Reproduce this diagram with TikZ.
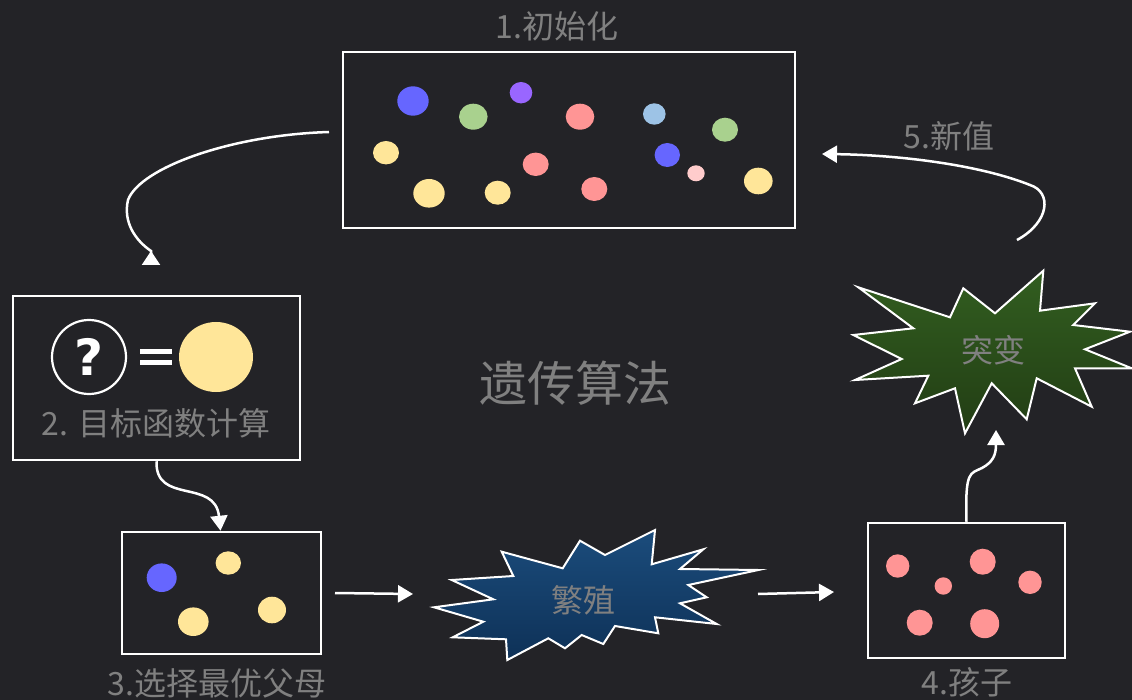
\documentclass[tikz,border=0pt]{standalone}
\usepackage{fontspec}
\setmainfont{Noto Sans CJK SC}
\newfontfamily\qfont{DejaVu Sans}
\usetikzlibrary{arrows.meta,calc}
\definecolor{bg}{HTML}{232327}
\definecolor{txt}{HTML}{808080}
\definecolor{cblue}{HTML}{6666FF}
\definecolor{cgreen}{HTML}{A9D18E}
\definecolor{cpurple}{HTML}{9966FF}
\definecolor{cred}{HTML}{FF9595}
\definecolor{clblue}{HTML}{9DC3E6}
\definecolor{cyellow}{HTML}{FFE699}
\definecolor{clpink}{HTML}{FFCCCC}
\definecolor{btop}{HTML}{1B4C7C}
\definecolor{bbot}{HTML}{0E3157}
\definecolor{gtop}{HTML}{325E20}
\definecolor{gbot}{HTML}{223D14}
\tikzset{
  box/.style={draw=white, line width=2.5pt, inner sep=0pt},
  lbl/.style={text=txt, font=\fontsize{32}{36}\selectfont, inner sep=0pt},
  conn/.style={draw=white, line width=2.5pt},
  tip/.style={-{Triangle[width=17pt,length=15pt]}},
  burst/.style={draw=white, line width=2pt, line join=miter},
}
\begin{document}
\begin{tikzpicture}[x=1pt,y=-1pt]
\fill[bg] (0,0) rectangle (1132,700);
\useasboundingbox (0,0) rectangle (1132,700);

% boxes
\node[box, minimum width=452pt, minimum height=176pt] (b1) at (569,140) {};
\node[box, minimum width=287pt, minimum height=164pt] (b2) at (156.5,378) {};
\node[box, minimum width=199pt, minimum height=122pt] (b3) at (221.5,593) {};
\node[box, minimum width=197pt, minimum height=135pt] (b4) at (966.5,590.5) {};

% labels
\node[lbl] (t1) at (557,26) {1.初始化};
\node[lbl] (t2) at (156,423) {2. 目标函数计算};
\node[lbl] (t3) at (217,683) {3.选择最优父母};
\node[lbl] (t4) at (967,682) {4.孩子};
\node[lbl] (t5) at (949,136) {5.新值};
\node[lbl, font=\fontsize{48}{52}\selectfont] (title) at (575,383) {遗传算法};

% dots in box 1
\fill[cblue]   (413,101)   ellipse [x radius=15.7, y radius=14.7];
\fill[cgreen]  (473.3,116.7) ellipse [x radius=14.3, y radius=13];
\fill[cpurple] (521,92.7)  ellipse [x radius=11.3, y radius=10.7];
\fill[cred]    (580,116.7) ellipse [x radius=14.3, y radius=13];
\fill[clblue]  (654.3,114) ellipse [x radius=11.3, y radius=10.7];
\fill[cgreen]  (725,129.7) ellipse [x radius=13, y radius=12];
\fill[cyellow] (386,152.7) ellipse [x radius=13, y radius=11.7];
\fill[cred]    (535.7,164.3) ellipse [x radius=13, y radius=11.7];
\fill[cblue]   (667.3,155) ellipse [x radius=12.7, y radius=12];
\fill[clpink]  (696,173.3) ellipse [x radius=8.7, y radius=8];
\fill[cyellow] (758.3,181) ellipse [x radius=14.3, y radius=13.3];
\fill[cyellow] (429,193.3) ellipse [x radius=15.7, y radius=14.3];
\fill[cyellow] (497.7,192.7) ellipse [x radius=13, y radius=12];
\fill[cred]    (594.3,189) ellipse [x radius=13, y radius=12];

% box 2 content
\node[draw=white, line width=2.2pt, circle, minimum size=74pt, inner sep=0pt,
      text=white, font=\qfont\bfseries\fontsize{50}{50}\selectfont] (q) at (89,357) {?};
\fill[white] (140,349.5) rectangle (172,354.5);
\fill[white] (140,360.5) rectangle (172,365.5);
\fill[cyellow] (216,357) ellipse [x radius=37, y radius=35];

% box 3 dots
\fill[cblue]   (161.7,577.7) ellipse [x radius=15, y radius=14.3];
\fill[cyellow] (228.3,563) ellipse [x radius=12.7, y radius=11.7];
\fill[cyellow] (193.3,621.7) ellipse [x radius=15.3, y radius=14.3];
\fill[cyellow] (272,610) ellipse [x radius=14, y radius=13.3];

% box 4 dots
\fill[cred] (897.7,566) circle [radius=11.7];
\fill[cred] (982.7,561.7) circle [radius=13];
\fill[cred] (943.3,586) circle [radius=8.7];
\fill[cred] (1030,582.3) circle [radius=11.7];
\fill[cred] (919.7,622.7) circle [radius=13];
\fill[cred] (984.7,623.7) circle [radius=14.5];

% starburst: breeding
\path[burst, top color=btop, bottom color=bbot]
  (434,607.3) -- (483.3,621.7) -- (452.7,637.3) -- (506,639.3) -- (507.3,660)
  -- (548.3,638.3) -- (565,648.3) -- (581.7,635) -- (603.3,644) -- (615,626)
  -- (658.3,633.3) -- (655,617.3) -- (716.7,624) -- (680,603.3) -- (706.7,597.3)
  -- (688.3,585) -- (758.3,570) -- (680,569) -- (703.3,549.3) -- (651.7,564.3)
  -- (655,530) -- (605,555) -- (580,540.7) -- (562.7,568.3) -- (501.7,551.7)
  -- (513.3,576) -- (451.7,580) -- (493.3,599.3) -- cycle;
\node[lbl] (fz) at (583,600) {繁殖};

% starburst: mutation
\path[burst, top color=gtop, bottom color=gbot]
  (853.3,335) -- (901.7,359) -- (855,380) -- (928.3,375.7) -- (915,403.3)
  -- (955,388.3) -- (965,433.3) -- (991.7,383.3) -- (1026.7,419.3) -- (1036.7,378.3)
  -- (1091.7,406.7) -- (1075,368.3) -- (1131.7,368.3) -- (1085,349.3) -- (1130,331.7)
  -- (1073.3,325) -- (1095,303.3) -- (1040,310.7) -- (1043.3,270.7) -- (995,313.3)
  -- (963.3,288.3) -- (950,317.3) -- (858.3,287.3) -- (913.3,328.3) -- cycle;
\node[lbl] (tb) at (993,350) {突变};

% connector endpoints
\coordinate (a1s) at (329,132);
\coordinate (a1m) at (151,251);
\coordinate (a1e) at (151,265);
\coordinate (a3s) at (335,593);
\coordinate (a3e) at (413,594);
\coordinate (a4s) at (758,594);
\coordinate (a4e) at (834,592);
\coordinate (a6e) at (996,430);
\coordinate (a7s) at (1017,240);
\coordinate (a7e) at (822,154);

% connectors
\draw[conn, -{Triangle[reversed,width=18pt,length=14pt]}]
  (a1s) .. controls (230,135) and (140,168) .. (128,200)
        .. controls (123,222) and (135,240) .. (a1m) -- (a1e);
\draw[conn, tip] (b2.south) .. controls (155,505) and (215,478) .. ($(b3.north)+(-1,0)$);
\draw[conn, tip] (a3s) -- (a3e);
\draw[conn, tip] (a4s) -- (a4e);
\draw[conn, tip] (b4.north) .. controls (965,470) and (970,474) .. (982,468)
      .. controls (993,462) and (996,455) .. (a6e);
\draw[conn, tip] (a7s) .. controls (1050,222) and (1052,192) .. (1030,185)
      .. controls (980,165) and (900,155) .. (a7e);
\end{tikzpicture}
\end{document}
